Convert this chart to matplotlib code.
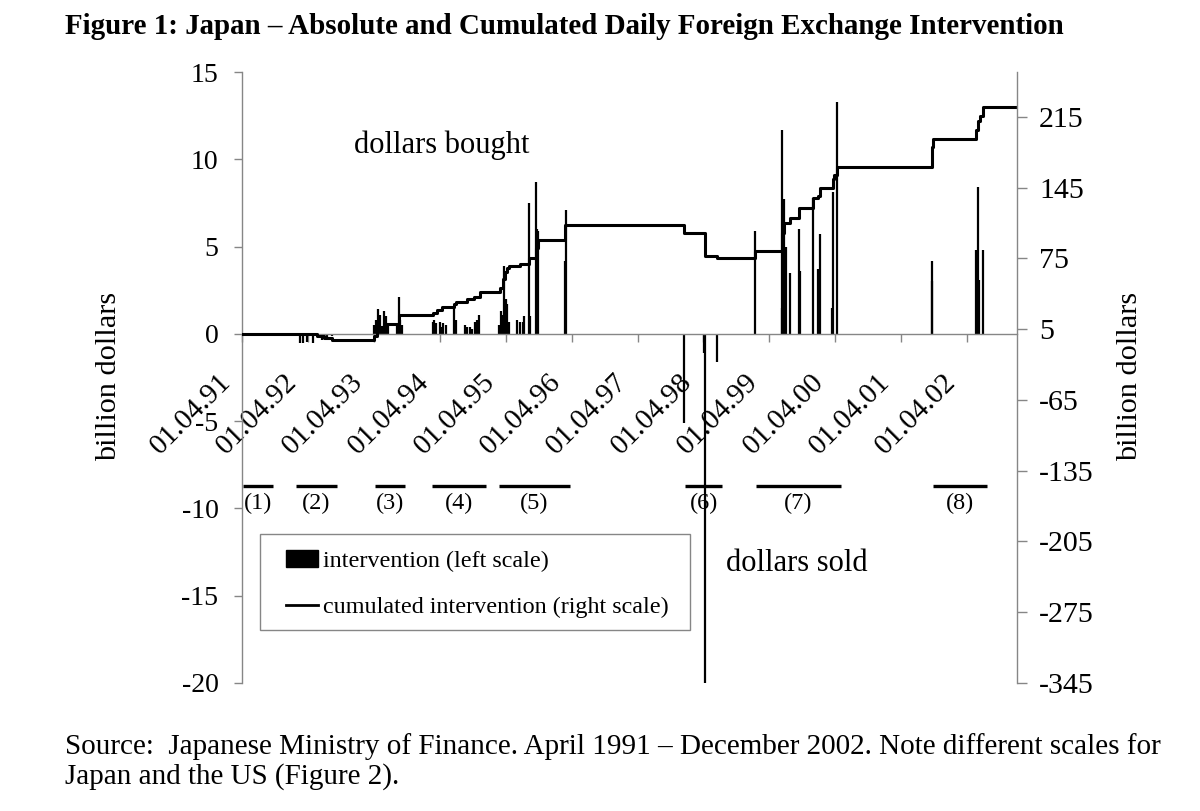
import numpy as np
import pandas as pd
import matplotlib
matplotlib.use("Agg")
import matplotlib.pyplot as plt
from matplotlib.patches import Patch, Rectangle
from matplotlib.lines import Line2D
from matplotlib.transforms import ScaledTranslation

plt.rcParams['font.family'] = ['Liberation Serif', 'DejaVu Serif']
plt.rcParams['axes.unicode_minus'] = False

# daily intervention, billion dollars (left scale)
interv_dates = [
    '1992-02-17', '1992-03-05', '1992-03-27', '1992-04-29', '1992-06-18', '1992-07-16', '1992-08-12',
    '1993-04-02', '1993-04-13', '1993-04-24', '1993-05-05', '1993-05-16', '1993-05-27',
    '1993-06-07', '1993-06-18', '1993-08-08', '1993-08-19', '1993-08-24', '1993-09-04',
    '1994-02-21', '1994-03-02', '1994-03-12', '1994-04-03', '1994-04-12', '1994-04-21',
    '1994-05-06', '1994-06-21', '1994-06-30', '1994-08-19', '1994-08-28', '1994-09-15',
    '1994-09-25', '1994-10-13', '1994-10-22', '1994-11-06',
    '1995-02-25', '1995-03-07', '1995-03-14', '1995-03-23', '1995-04-02', '1995-04-10',
    '1995-04-21', '1995-06-01', '1995-06-20', '1995-07-05', '1995-07-12', '1995-08-07',
    '1995-08-14', '1995-09-15', '1995-09-22', '1995-09-27',
    '1996-02-24', '1996-02-28',
    '1997-12-17', '1998-04-07', '1998-04-10', '1998-06-17',
    '1999-01-12', '1999-06-10', '1999-06-11', '1999-06-23', '1999-07-03', '1999-07-24',
    '1999-09-14', '1999-09-16', '1999-11-30', '1999-12-27', '2000-01-07', '2000-03-12',
    '2000-03-18', '2000-04-09',
    '2001-09-18', '2001-09-21',
    '2002-05-21', '2002-06-01', '2002-06-08', '2002-06-27',
]
interv_vals = [
    -0.55, -0.55, -0.45, -0.55, -0.35, -0.3, -0.15,
    0.5, 0.8, 1.4, 1.1, 0.4, 1.3,
    1.0, 0.6, 0.6, 2.1, 0.8, 0.5,
    0.7, 0.8, 0.6, 0.7, 0.4, 0.6,
    0.5, 1.5, 0.8, 0.5, 0.4, 0.4,
    0.3, 0.7, 0.8, 1.1,
    0.5, 1.3, 1.1, 3.9, 2.0, 1.7,
    0.7, 0.8, 0.7, 0.7, 1.0, 7.5,
    1.0, 8.7, 6.0, 5.9,
    4.2, 7.1,
    -5.1, -1.1, -20.0, -1.6,
    5.9, 1.5, 11.7, 7.7, 5.0, 3.5,
    6.0, 3.6, 7.8, 3.7, 5.7, 1.5,
    8.1, 13.3,
    4.2, 3.0,
    4.8, 8.4, 3.1, 4.8,
]

# cumulated intervention, billion dollars (right scale)
cum_dates = [
    '1991-04-01', '1991-10-01', '1992-05-21', '1992-06-30', '1992-08-14',
    '1993-04-02', '1993-04-18', '1993-05-05', '1993-05-27', '1993-08-19',
    '1994-02-21', '1994-03-17', '1994-04-13', '1994-06-18', '1994-06-30',
    '1994-08-28', '1994-10-06', '1994-11-08',
    '1995-03-01', '1995-03-17', '1995-03-28', '1995-04-10', '1995-04-21',
    '1995-06-20', '1995-08-07', '1995-09-15', '1995-09-27',
    '1996-02-26', '1997-12-17', '1998-04-10', '1998-06-17',
    '1999-01-12', '1999-06-10', '1999-06-21', '1999-07-24', '1999-09-14',
    '1999-11-30', '1999-12-27', '2000-01-07', '2000-03-18', '2000-03-25', '2000-04-09',
    '2001-09-18', '2001-09-24',
    '2002-05-21', '2002-06-01', '2002-06-12', '2002-06-27', '2003-01-03',
]
cum_vals = [
    0.5, 0, -2, -4, -6,
    -2, 4, 7.5, 10, 19,
    21, 24, 27, 30, 32,
    34.5, 36.5, 42,
    46, 55, 62, 66, 67.3,
    69.7, 75, 85, 93.3,
    108, 100, 77, 75,
    82.4, 100, 110, 114.8, 124.7,
    134.6, 137, 144.5, 153.4, 158, 165.8,
    185.6, 193,
    202, 211, 216, 225, 225,
]

tick_dates = ['1991-04-01', '1992-04-01', '1993-04-01', '1994-04-01', '1995-04-01', '1996-04-01',
              '1997-04-01', '1998-04-01', '1999-04-01', '2000-04-01', '2001-04-01', '2002-04-01']
tick_labels = ['01.04.91', '01.04.92', '01.04.93', '01.04.94', '01.04.95', '01.04.96',
               '01.04.97', '01.04.98', '01.04.99', '01.04.00', '01.04.01', '01.04.02']

# intervention periods
period_names = ['(1)', '(2)', '(3)', '(4)', '(5)', '(6)', '(7)', '(8)']
period_start = ['1991-04-06', '1992-01-25', '1993-04-08', '1994-02-17',
                '1995-02-23', '1997-12-21', '1999-01-17', '2001-09-25']
period_end = ['1991-09-20', '1992-09-08', '1993-09-21', '1994-12-13',
              '1996-03-24', '1998-07-14', '2000-05-04', '2002-07-21']

grey = '#868686'

fig = plt.figure(figsize=(12, 8.11), dpi=100)
ax = fig.add_axes([242/1200, 1-683/811, 775/1200, 611/811])
ax2 = ax.twinx()

ax.vlines(pd.to_datetime(interv_dates), 0, interv_vals, color='black', lw=1.6)
ax2.plot(pd.to_datetime(cum_dates), cum_vals, color='black', lw=2.2, drawstyle='steps-post')

ax.set_xlim(pd.Timestamp('1991-04-01'), pd.Timestamp('2003-01-03'))
ax.set_ylim(-20, 15)
ax.set_yticks(np.arange(-20, 16, 5))
ax2.set_ylim(-345, 259.5)
ax2.set_yticks(np.arange(-345, 216, 70))

for s in ['top', 'right']:
    ax.spines[s].set_visible(False)
for s in ['top', 'left', 'bottom']:
    ax2.spines[s].set_visible(False)
ax.spines['bottom'].set_position(('data', 0))
for sp in [ax.spines['left'], ax.spines['bottom'], ax2.spines['right']]:
    sp.set_color(grey)
    sp.set_linewidth(1.0)

ax.tick_params(axis='y', direction='out', length=6, width=1, color=grey, pad=11, labelsize=20)
ax2.tick_params(axis='y', direction='out', length=7, width=1, color=grey, pad=9, labelsize=21.5)

ax.set_xticks(pd.to_datetime(tick_dates))
ax.set_xticklabels(tick_labels, rotation=45, ha='right', va='center', rotation_mode='anchor')
ax.tick_params(axis='x', direction='out', length=6, width=1, color=grey, pad=26, labelsize=21)
for lbl in ax.get_xticklabels():
    lbl.set_transform(lbl.get_transform() + ScaledTranslation(-0.15, 0, fig.dpi_scale_trans))

ax.set_ylabel('billion dollars', fontsize=21.8)
ax.yaxis.set_label_coords(-0.155, 0.501)
ax2.set_ylabel('billion dollars', fontsize=21.8)
ax2.yaxis.set_label_coords(1.129, 0.501)

# periods
starts = pd.to_datetime(period_start)
ends = pd.to_datetime(period_end)
ax.hlines([-8.7] * len(starts), starts, ends, color='black', lw=2.4)
for name, s, e in zip(period_names, starts, ends):
    ax.text(s + (e - s) / 2, -9.7, name, ha='center', va='center', fontsize=17.5)

ax.text(0.258, 0.8805, 'dollars bought', transform=ax.transAxes, ha='center', va='center', fontsize=22)
ax.text(0.716, 0.196, 'dollars sold', transform=ax.transAxes, ha='center', va='center', fontsize=22)

# legend box drawn separately so the padding can match
box = Rectangle((260/1200, 1-630/811), 430/1200, 96/811, transform=fig.transFigure,
                facecolor='white', edgecolor=grey, lw=1.0, zorder=4, clip_on=False)
ax2.add_artist(box)
handles = [Patch(facecolor='black', edgecolor='black'), Line2D([], [], color='black', lw=2)]
leg = ax2.legend(handles, ['intervention (left scale)', 'cumulated intervention (right scale)'],
                 loc='upper left', bbox_to_anchor=(286/1200, 1-550/811),
                 bbox_transform=fig.transFigure, borderaxespad=0, borderpad=0,
                 frameon=False, fontsize=17.4, handlelength=1.32,
                 handletextpad=0.2, labelspacing=1.0)
leg.set_zorder(6)

fig.text(65/1200, 1-27/811,
         'Figure 1: Japan \u2013 Absolute and Cumulated Daily Foreign Exchange Intervention',
         fontsize=20.9, fontweight='bold', ha='left', va='center')
fig.text(65/1200, 1-747/811,
         'Source:  Japanese Ministry of Finance. April 1991 \u2013 December 2002. Note different scales for',
         fontsize=21, ha='left', va='center')
fig.text(65/1200, 1-777/811, 'Japan and the US (Figure 2).', fontsize=21, ha='left', va='center')

fig.savefig('out.png', dpi=100)
